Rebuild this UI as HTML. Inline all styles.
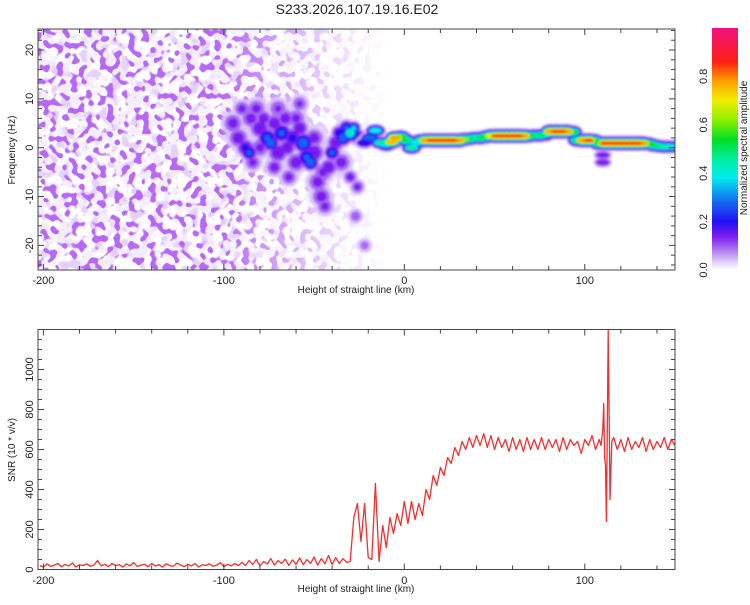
<!DOCTYPE html>
<html><head><meta charset="utf-8">
<style>
body{margin:0;background:#fff;width:750px;height:600px;overflow:hidden;font-family:"Liberation Sans",sans-serif}
svg text{font-family:"Liberation Sans",sans-serif;fill:#222}
</style></head>
<body>
<svg id="chart" width="750" height="600" viewBox="0 0 750 600" xmlns="http://www.w3.org/2000/svg">
<defs>
<filter id="texL" x="0" y="0" width="1" height="1">
<feTurbulence type="fractalNoise" baseFrequency="0.085" numOctaves="1" seed="7"/>
<feColorMatrix type="matrix" values="0 0 0 0 0.90  0 0 0 0 0.85  0 0 0 0 0.985  9 0 0 0 -4.1"/>
</filter>
<filter id="texM" x="0" y="0" width="1" height="1">
<feTurbulence type="fractalNoise" baseFrequency="0.1" numOctaves="1" seed="21"/>
<feColorMatrix type="matrix" values="0 0 0 0 0.78  0 0 0 0 0.64  0 0 0 0 0.96  9 0 0 0 -5.0"/>
</filter>
<filter id="texD" x="0" y="0" width="1" height="1">
<feTurbulence type="fractalNoise" baseFrequency="0.14" numOctaves="1" seed="33"/>
<feColorMatrix type="matrix" values="0 0 0 0 0.47  0 0 0 0 0.14  0 0 0 0 0.92  16 0 0 0 -8.6"/>
</filter>
<filter id="soft"><feGaussianBlur stdDeviation="1.1"/></filter>
<linearGradient id="fade" x1="0" x2="1" y1="0" y2="0">
<stop offset="0" stop-color="#fff"/><stop offset="0.29" stop-color="#fff"/>
<stop offset="0.38" stop-color="#999"/><stop offset="0.5" stop-color="#222"/><stop offset="0.55" stop-color="#000"/><stop offset="1" stop-color="#000"/>
</linearGradient>
<mask id="fadeMask"><rect x="38" y="29" width="637" height="241" fill="url(#fade)"/></mask>
<clipPath id="topClip"><rect x="38" y="29" width="637" height="241"/></clipPath>
<clipPath id="botClip"><rect x="38" y="329" width="637" height="241"/></clipPath>
<linearGradient id="cbar" x1="0" x2="0" y1="1" y2="0">
<stop offset="0" stop-color="#ffffff"/><stop offset="0.03" stop-color="#e6d6fb"/>
<stop offset="0.08" stop-color="#b27cf3"/><stop offset="0.14" stop-color="#7a1cf0"/>
<stop offset="0.2" stop-color="#2010f5"/><stop offset="0.28" stop-color="#1565f0"/>
<stop offset="0.38" stop-color="#00ecf0"/><stop offset="0.46" stop-color="#00eea0"/>
<stop offset="0.54" stop-color="#00e020"/><stop offset="0.62" stop-color="#90ee00"/>
<stop offset="0.7" stop-color="#f0ee00"/><stop offset="0.78" stop-color="#ffa000"/>
<stop offset="0.86" stop-color="#ff2010"/><stop offset="1" stop-color="#f01080"/>
</linearGradient>
</defs>
<text x="357" y="14" font-size="14" text-anchor="middle">S233.2026.107.19.16.E02</text>
<g id="top">
<g clip-path="url(#topClip)">
<g mask="url(#fadeMask)">
<rect x="38" y="29" width="637" height="241" filter="url(#texL)"/>
<rect x="38" y="29" width="637" height="241" filter="url(#texM)"/>
<rect x="38" y="29" width="637" height="241" filter="url(#texD)"/>
</g>
</g>
<g id="heat" clip-path="url(#topClip)"><g id="heatInner" filter="url(#soft)"></g></g>
<rect x="38" y="29" width="637" height="241" fill="none" stroke="#444" stroke-width="1"/>
<g id="topAxes"></g>
<text transform="translate(15,150) rotate(-90)" font-size="10" text-anchor="middle">Frequency (Hz)</text>
<text x="356" y="293" font-size="10" text-anchor="middle">Height of straight line (km)</text>
</g>
<g>
<rect x="712" y="28" width="26" height="242" fill="url(#cbar)"/>
<g id="cbAxes"></g>
<text transform="translate(747,148) rotate(-90)" font-size="10" text-anchor="middle">Normalized spectral amplitude</text>
</g>
<g id="bot">
<g clip-path="url(#botClip)"><path id="snrLine" fill="none" stroke="#f03030" stroke-width="1.3" stroke-linejoin="round"/></g>
<rect x="38" y="329.5" width="637" height="240" fill="none" stroke="#444" stroke-width="1"/>
<g id="botAxes"></g>
<text transform="translate(15,450) rotate(-90)" font-size="10" text-anchor="middle">SNR (10 * v/v)</text>
<text x="356" y="592" font-size="10" text-anchor="middle">Height of straight line (km)</text>
</g>
</svg>
<script>
// ---- data ----
const xTicks = [-200, -100, 0, 100];
const freqTicks = [-20, -10, 0, 10, 20];
const snrTicks = [0, 200, 400, 600, 800, 1000];
const cbTicks = [0.0, 0.2, 0.4, 0.6, 0.8];
const snrA = [20,12,28,15,22,30,14,25,18,32,12,24,20,28,16,22,45,18,26,14,30,20,24,12,28,18,35,15,22,26,14,30,18,24,12,28,20,16,32,22,14,26,18,30,12,24,20,28,16,22,34,14,26,18,30,20,
35,20,45,25,50,18,40,28,55,22,45,30,52,20,48,26,58,24,50,30,62,22,55,28,70,25,60,30,55,35];
const snrAStart = -202, snrAStep = 2;
const snrB = [40,260,330,140,330,60,50,430,40,220,110,260,180,280,220,340,230,340,250,330,270,400,350,470,420,510,470,560,530,610,570,640,600,660,610,670,620,680,610,670,600,660,610,650,590,660,600,650,590,660,600,650,600,660,600,650,610,650,590,660,600,650,620,640,580,650,620,670,600,650];
const snrBStart = -30, snrBStep = 2;
const snrSpikeX = [109,110,110.5,111,111.5,112,112.5,113,113.5,114,115];
const snrSpikeY = [620,700,830,560,520,240,700,1200,800,350,640];
const snrC = [660,600,650,590,660,600,640,610,660,590,650,600,640,610,660,600,650,620];
const snrCStart = 116, snrCStep = 2;
const ridgeKm = [-22,-19,-16,-13,-10,-7,-5,-2,1,4,7,9,12,15,18,21,24,27,30,33,36,39,42,45,48,51,54,57,60,63,66,69,72,75,78,81,84,87,90,93,96,99,102,105,108,111,114,117,120,123,126,129,132,135,138,141,144,147,150,110,110];
const ridgeHz = [1,2,3.5,1,0.5,1.2,2,2.2,1.5,0,1,1.5,1.5,1.5,1.5,1.5,1.5,1.5,1.5,1.7,1.8,2,2,2.2,2.4,2.4,2.4,2.4,2.4,2.4,2.4,2.4,2.5,2.5,2.6,3.3,3.3,3.3,3.3,3.2,1.5,1.5,1.5,1.5,0.8,0.9,0.9,0.9,0.9,0.9,0.9,0.9,0.9,0.8,0.5,0.3,0.2,0.2,0.2,-1.5,-3];
const ridgeAmp = [0.25,0.35,0.45,0.5,0.4,0.8,0.85,0.6,0.55,0.5,0.45,0.5,0.85,0.88,0.88,0.88,0.88,0.88,0.85,0.65,0.55,0.5,0.55,0.6,0.75,0.88,0.88,0.88,0.88,0.88,0.85,0.6,0.5,0.55,0.45,0.85,0.88,0.88,0.85,0.6,0.55,0.85,0.88,0.6,0.55,0.88,0.88,0.88,0.88,0.88,0.88,0.88,0.85,0.6,0.55,0.5,0.5,0.45,0.45,0.17,0.17];
const blobKm = [-95,-92,-88,-86,-85,-82,-80,-78,-76,-74,-72,-70,-68,-66,-65,-62,-60,-58,-56,-54,-52,-50,-48,-46,-44,-42,-40,-38,-36,-34,-32,-30,-28,-26,-30,-64,-72,-84,-90,-58,-25,-22,-27,-80,-70,-60,-50,-45,-35];
const blobHz = [5,2,0,-1,6,8,4,6,2,1,5,-1,3,6,0,2,-3,4,1,-2,-3,-1,-7,-10,-12,-4,-1,1,3,2,4,3,4,-8,-6,-6,-4,-3,8,9,2,-20,-14,0,8,6,2,-5,-3];
const blobAmp = [0.17,0.18,0.22,0.3,0.17,0.16,0.2,0.18,0.3,0.35,0.18,0.2,0.3,0.17,0.2,0.22,0.18,0.2,0.35,0.3,0.35,0.2,0.17,0.17,0.16,0.2,0.3,0.2,0.25,0.35,0.3,0.5,0.4,0.16,0.17,0.16,0.17,0.16,0.16,0.15,0.3,0.12,0.14,0.16,0.15,0.16,0.17,0.16,0.17];
const blobSize = [3,3,2.5,2,3,3,3,2.5,2.5,2,3,3,2.5,3,2.5,3,3,2.5,2.5,2.5,2,3,3,3,2.5,2.5,2,2.5,2,2,2,2,1.5,2,2,2.5,2.5,2.5,2.5,2.5,2,2,2,3,3,3,3,3,3];

// ---- scales ----
const X0=38, X1=675, KM0=-203, KM1=150;
const xs = k => X0 + (k-KM0)/(KM1-KM0)*(X1-X0);
const fy = h => 147.7 - h*4.885;
const sy = v => 569.5 - v/1200*240;
const cy = v => 270 - v*242;
const NS='http://www.w3.org/2000/svg';
function mk(tag, parent, attrs){const e=document.createElementNS(NS,tag);for(const k in attrs)e.setAttribute(k,attrs[k]);parent.appendChild(e);return e;}

const stops=[[0,[255,255,255]],[0.03,[230,214,251]],[0.08,[178,124,243]],[0.14,[122,28,240]],[0.2,[32,16,245]],[0.28,[21,101,240]],[0.38,[0,236,240]],[0.46,[0,238,160]],[0.54,[0,224,32]],[0.62,[144,238,0]],[0.7,[240,238,0]],[0.78,[255,160,0]],[0.86,[255,32,16]],[1,[240,16,128]]];
function cmap(v){for(let i=1;i<stops.length;i++){if(v<=stops[i][0]){const a=stops[i-1],b=stops[i];const t=(v-a[0])/(b[0]-a[0]);return 'rgb('+a[1].map((c,j)=>Math.round(c+(b[1][j]-c)*t)).join(',')+')';}}return 'rgb(240,16,128)';}

const heat=document.getElementById('heatInner');
const levels=[0.04,0.09,0.14,0.2,0.28,0.38,0.46,0.54,0.62,0.7,0.78,0.86];
levels.forEach(L=>{
  blobKm.forEach((k,i)=>{const amp=blobAmp[i]; if(amp<L) return;
    const s=blobSize[i]*2.2;
    const d=s*Math.sqrt(2*Math.log(amp/L))+1;
    const e=mk('ellipse',heat,{cx:xs(k),cy:fy(blobHz[i]),rx:d,ry:d,fill:cmap(L)});
    
    
  });
});
levels.forEach(L=>{
  ridgeKm.forEach((k,i)=>{const amp=ridgeAmp[i]; if(amp<L) return;
    const d=3.0*Math.sqrt(2*Math.log(amp/L))+0.8;
    const e=mk('ellipse',heat,{cx:xs(k),cy:fy(ridgeHz[i]),rx:d+3.5,ry:d,fill:cmap(L)});
    
    
  });
});

// ---- SNR line ----
let pts=[];
snrA.forEach((v,i)=>pts.push([snrAStart+i*snrAStep,v]));
snrB.forEach((v,i)=>pts.push([snrBStart+i*snrBStep,v]));
snrSpikeX.forEach((x,i)=>pts.push([x,snrSpikeY[i]]));
snrC.forEach((v,i)=>pts.push([snrCStart+i*snrCStep,v]));
pts.sort((a,b)=>a[0]-b[0]);
document.getElementById('snrLine').setAttribute('d',pts.map((p,i)=>(i?'L':'M')+xs(p[0]).toFixed(1)+','+sy(p[1]).toFixed(1)).join(''));

// ---- axes ----
function xAxis(gid,top,bot,labY){
  const g=document.getElementById(gid);
  for(let k=-200;k<=150;k+=20){const x=xs(k);const len=(k%100===0)?6:4;
    mk('line',g,{x1:x,x2:x,y1:bot,y2:bot-len,stroke:'#444'});
    mk('line',g,{x1:x,x2:x,y1:top,y2:top+len,stroke:'#444'});}
  xTicks.forEach(k=>{const t=mk('text',g,{x:xs(k),y:labY,'font-size':11,'text-anchor':'middle'});t.textContent=k;
    
    });
}
xAxis('topAxes',29,270,284);
xAxis('botAxes',329.5,569.5,584);
(function(){const g=document.getElementById('topAxes');
  for(let h=-24;h<=24;h+=2){const y=fy(h);const len=(h%10===0)?6:4;
    mk('line',g,{x1:X0,x2:X0+len,y1:y,y2:y,stroke:'#444'});mk('line',g,{x1:X1,x2:X1-len,y1:y,y2:y,stroke:'#444'});}
  freqTicks.forEach(h=>{const t=mk('text',g,{transform:'translate(33,'+fy(h)+') rotate(-90)','font-size':11,'text-anchor':'middle'});t.textContent=h;
    
    });
})();
(function(){const g=document.getElementById('botAxes');
  for(let v=0;v<=1200;v+=50){const y=sy(v);const len=(v%200===0)?6:4;
    mk('line',g,{x1:X0,x2:X0+len,y1:y,y2:y,stroke:'#444'});mk('line',g,{x1:X1,x2:X1-len,y1:y,y2:y,stroke:'#444'});}
  snrTicks.forEach(v=>{const t=mk('text',g,{transform:'translate(33,'+sy(v)+') rotate(-90)','font-size':11,'text-anchor':'middle'});t.textContent=v;
    
    });
})();
(function(){const g=document.getElementById('cbAxes');
  cbTicks.forEach(v=>{const t=mk('text',g,{transform:'translate(707,'+cy(v)+') rotate(-90)','font-size':11,'text-anchor':'middle'});t.textContent=v.toFixed(1);
    
    });
})();
</script>
</body></html>
